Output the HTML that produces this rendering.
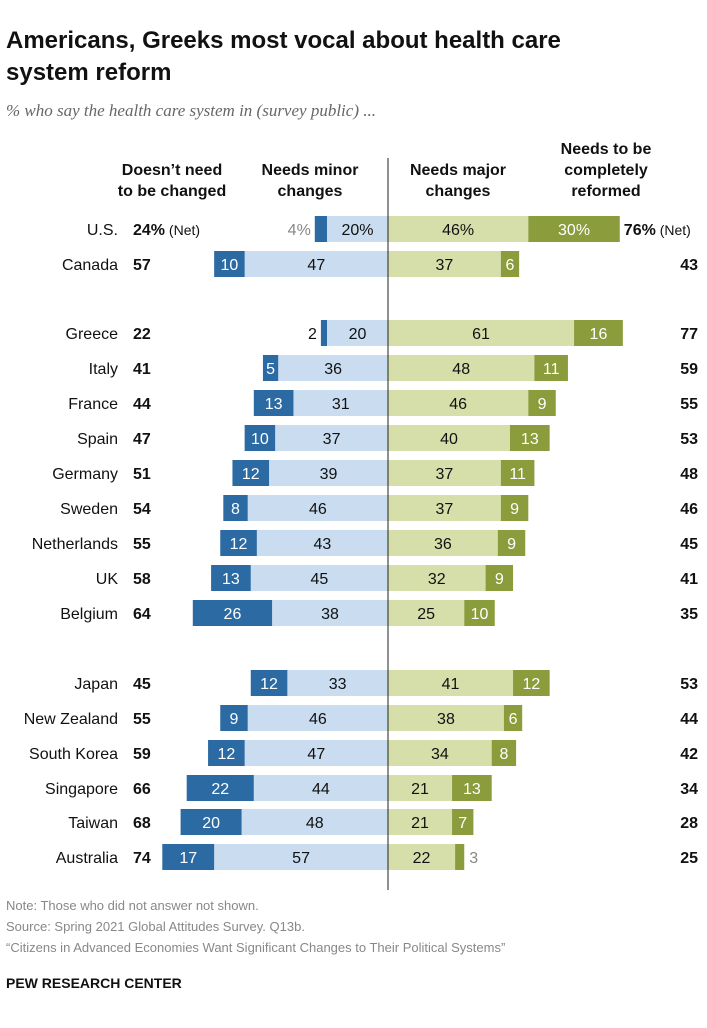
<!DOCTYPE html>
<html><head><meta charset="utf-8"><style>
body{margin:0;background:#fff;width:707px;height:1023px;overflow:hidden;font-family:"Liberation Sans",sans-serif}
svg text{font-family:"Liberation Sans",sans-serif}
</style></head><body>
<svg id="c" width="707" height="1023">
<text x="6" y="48" font-size="24" font-weight="bold" fill="#111">Americans, Greeks most vocal about health care</text>
<text x="6" y="80" font-size="24" font-weight="bold" fill="#111">system reform</text>
<text x="6" y="116" font-size="17" font-style="italic" fill="#666" style="font-family:'Liberation Serif',serif">% who say the health care system in (survey public) ...</text>
<g font-size="16" font-weight="bold" fill="#111" text-anchor="middle">
<text x="172" y="175">Doesn’t need</text><text x="172" y="196">to be changed</text>
<text x="310" y="175">Needs minor</text><text x="310" y="196">changes</text>
<text x="458" y="175">Needs major</text><text x="458" y="196">changes</text>
<text x="606" y="154">Needs to be</text><text x="606" y="175">completely</text><text x="606" y="196">reformed</text>
</g>
<g id="rows"></g>
<line x1="388" y1="158" x2="388" y2="890" stroke="#222" stroke-width="1"/>
<g font-size="13" fill="#888">
<text x="6" y="910">Note: Those who did not answer not shown.</text>
<text x="6" y="931">Source: Spring 2021 Global Attitudes Survey. Q13b.</text>
<text x="6" y="952">“Citizens in Advanced Economies Want Significant Changes to Their Political Systems”</text>
</g>
<text x="6" y="988" font-size="14" font-weight="bold" fill="#111">PEW RESEARCH CENTER</text>
</svg>
<script>
const countries=["U.S.","Canada","Greece","Italy","France","Spain","Germany","Sweden","Netherlands","UK","Belgium","Japan","New Zealand","South Korea","Singapore","Taiwan","Australia"];
const noChange=[4,10,2,5,13,10,12,8,12,13,26,12,9,12,22,20,17];
const minor=[20,47,20,36,31,37,39,46,43,45,38,33,46,47,44,48,57];
const major=[46,37,61,48,46,40,37,37,36,32,25,41,38,34,21,21,22];
const reform=[30,6,16,11,9,13,11,9,9,9,10,12,6,8,13,7,3];
const netLeft=[24,57,22,41,44,47,51,54,55,58,64,45,55,59,66,68,74];
const netRight=[76,43,77,59,55,53,48,46,45,41,35,53,44,42,34,28,25];
const rowY=[229,264,333,368,403,438,473,508,543,578,613,683,718,753,788,822,857];
const cx=388,k=3.05,h=26;
const g=document.getElementById('rows');
const NS='http://www.w3.org/2000/svg';
function mk(t,a,p){const e=document.createElementNS(NS,t);for(const q in a)e.setAttribute(q,a[q]);p.appendChild(e);return e;}
function bar(x,w,y,fill,p){return mk('rect',{x:x,y:y-h/2,width:Math.max(w,0),height:h,fill:fill},p);}
function txt(x,y,s,o,p){const e=mk('text',Object.assign({x:x,y:y+6,'font-size':16},o),p);e.textContent=s;return e;}
countries.forEach((c,i)=>{
 const y=rowY[i],us=i===0,pc=us?'%':'';
 const row=mk('g',{},g);
 
 
 let t=txt(118,y,c,{'text-anchor':'end',fill:'#111'},row);
 
 const wm=minor[i]*k,wn=noChange[i]*k,wj=major[i]*k,wr=reform[i]*k;
 let b=bar(cx-wm,wm,y,'#c9dcf0',row);
 
 b=bar(cx-wm-wn,wn,y,'#2c6aa3',row);
 
 b=bar(cx,wj,y,'#d6dfaa',row);
 
 b=bar(cx+wj,wr,y,'#8a9c3b',row);
 
 txt(cx-wm/2,y,minor[i]+pc,{'text-anchor':'middle',fill:'#111'},row);
 if(noChange[i]>=5)txt(cx-wm-wn/2,y,noChange[i]+pc,{'text-anchor':'middle',fill:'#fff'},row);
 else txt(cx-wm-wn-4,y,noChange[i]+pc,{'text-anchor':'end',fill:us?'#888':'#111'},row);
 txt(cx+wj/2,y,major[i]+pc,{'text-anchor':'middle',fill:'#111'},row);
 if(reform[i]>=5)txt(cx+wj+wr/2,y,reform[i]+pc,{'text-anchor':'middle',fill:'#fff'},row);
 else txt(cx+wj+wr+5,y,reform[i]+pc,{'text-anchor':'start',fill:'#888'},row);
 let n=txt(133,y,netLeft[i]+pc,{'font-weight':'bold',fill:'#111'},row);
 
 if(us){const s=mk('tspan',{'font-weight':'normal','font-size':14},n);s.textContent=' (Net)';
  n=txt(cx+wj+wr+4,y,netRight[i]+pc,{'font-weight':'bold',fill:'#111'},row);
  const s2=mk('tspan',{'font-weight':'normal','font-size':14},n);s2.textContent=' (Net)';}
 else n=txt(698,y,netRight[i],{'font-weight':'bold',fill:'#111','text-anchor':'end'},row);
 
});
</script>
</body></html>
